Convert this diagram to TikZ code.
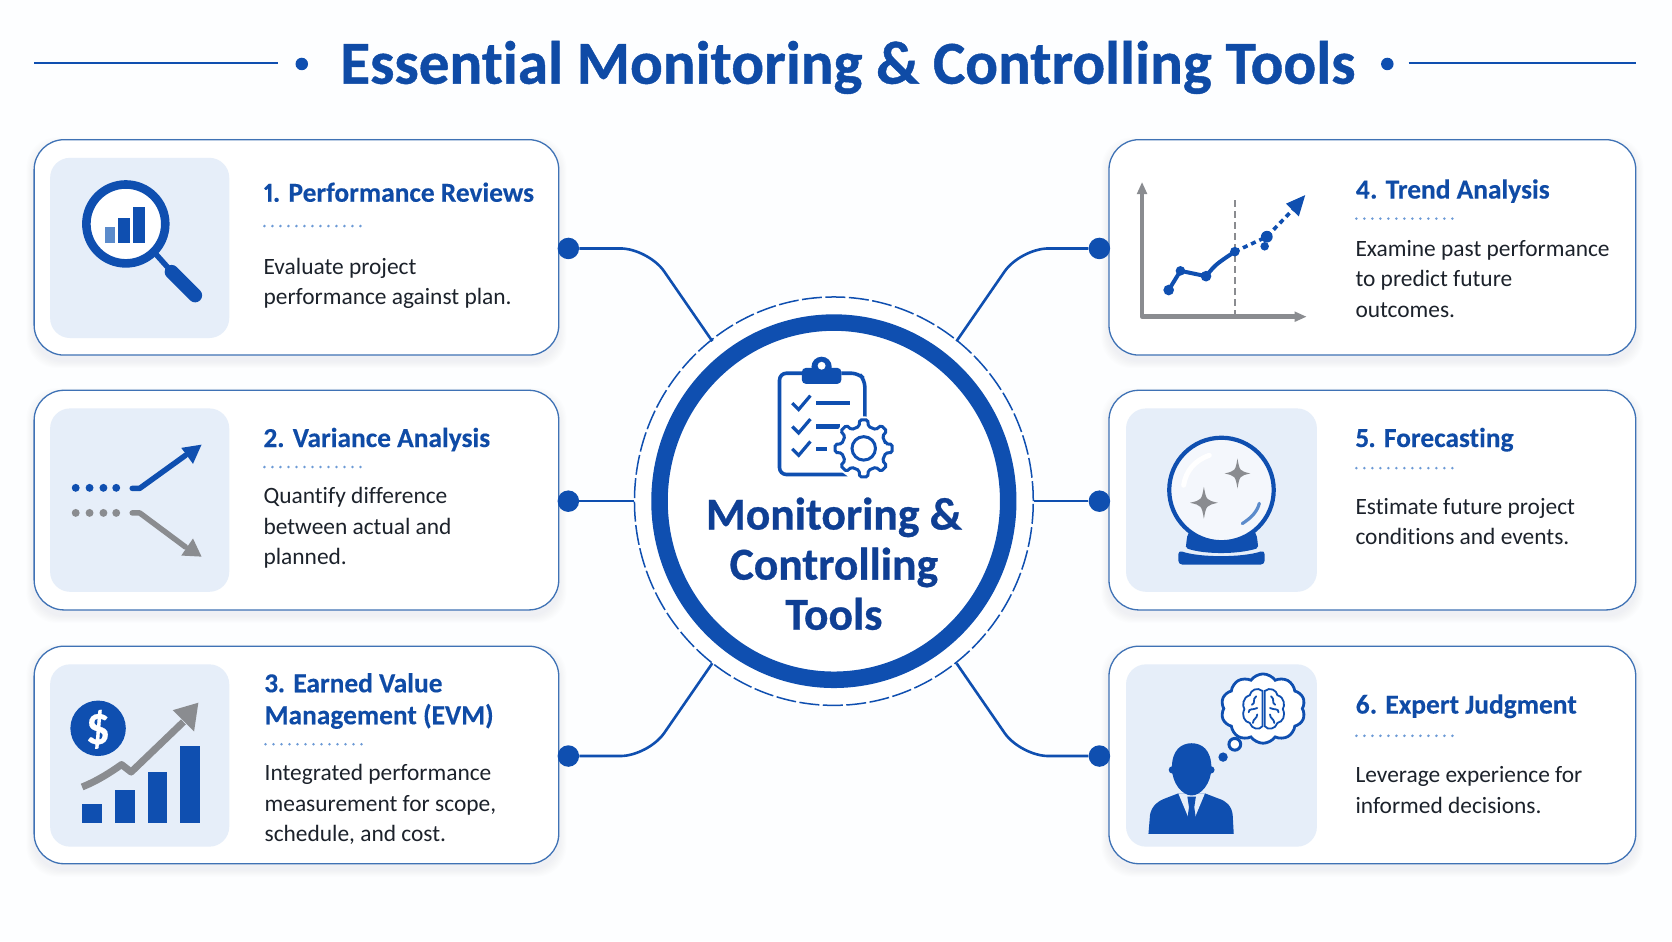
\documentclass[tikz,border=0pt]{standalone}
\usepackage{fontspec}
\setmainfont{Carlito}[Ligatures=NoCommon,Numbers=Proportional,BoldFeatures={FakeBold=0.25}]
\newfontfamily\heavyfont{Carlito}[Ligatures=NoCommon,Numbers=Proportional,BoldFeatures={FakeBold=0.7}]
\usetikzlibrary{shapes.geometric,shapes.symbols,arrows.meta,calc}
\definecolor{bgc}{HTML}{FDFEFF}
\definecolor{mainblue}{HTML}{0F4FB0}
\definecolor{deepblue}{HTML}{0F3F94}
\definecolor{headblue}{HTML}{0F4BA6}
\definecolor{cardline}{HTML}{3F72B5}
\definecolor{iconbg}{HTML}{E6EEF9}
\definecolor{softbar}{HTML}{5B8BCB}
\definecolor{dotblue}{HTML}{6C9AD6}
\definecolor{greyic}{HTML}{8A8C90}
\definecolor{bodyink}{HTML}{1C222B}
\definecolor{shadowc}{HTML}{7F96B8}
\tikzset{
  x=1.0663pt,y=-1.0663pt,
  cardbox/.style={draw=cardline,line width=1.3pt,fill=white,rounded corners=30pt,inner sep=0pt,rectangle},
  iconbox/.style={fill=iconbg,rounded corners=20pt,inner sep=0pt,rectangle},
  hubdot/.style={circle,fill=mainblue,minimum size=21.5pt,inner sep=0pt},
  link/.style={draw=mainblue,line width=2.6pt},
  dotrule/.style={draw=dotblue,line width=2.8pt,dash pattern=on 0pt off 8pt,line cap=round},
  headtext/.style={anchor=north west,inner sep=0pt,align=left,text=headblue,font=\fontsize{27.4}{32}\selectfont\bfseries},
  bodytext/.style={anchor=north west,inner sep=0pt,align=left,text=bodyink,font=\fontsize{23.4}{30.5}\selectfont},
  blueline/.style={draw=mainblue,line width=2.7pt},
}
\newcommand{\softshadow}[4]{\foreach \s in {1,...,7}{\fill[shadowc,opacity=.016,rounded corners=30pt] ({#1-\s},{#2-\s+5}) rectangle ({#3+\s},{#4+\s+5});}}
\newcommand{\cardnode}[5]{\softshadow{#2}{#3}{#4}{#5}\node[cardbox,minimum width={(#4-#2)*1.0663pt},minimum height={(#5-#3)*1.0663pt}] (#1) at ({(#2+#4)/2},{(#3+#5)/2}) {};}
\newcommand{\iconnode}[5]{\node[iconbox,minimum width={(#4-#2)*1.0663pt},minimum height={(#5-#3)*1.0663pt}] (#1) at ({(#2+#4)/2},{(#3+#5)/2}) {};}
\newcommand{\sparkle}[4]{\fill[greyic] (#1,{#2-#4}) .. controls ({#1+.17*#3},{#2-.17*#4}) .. ({#1+#3},#2) .. controls ({#1+.17*#3},{#2+.17*#4}) .. (#1,{#2+#4}) .. controls ({#1-.17*#3},{#2+.17*#4}) .. ({#1-#3},#2) .. controls ({#1-.17*#3},{#2-.17*#4}) .. cycle;}
\begin{document}
\begin{tikzpicture}
\useasboundingbox (0,0) rectangle (1568,882.5);
\fill[bgc] (0,0) rectangle (1568,882.5);

% title
\node[anchor=base,inner sep=0pt,text=headblue,font=\fontsize{61}{66}\selectfont\heavyfont\bfseries] (title) at (795,78.5) {Essential Monitoring \& Controlling Tools};
\draw[blueline] (32,59) -- (261,59);
\draw[blueline] (1321,59) -- (1534,59);
\node[circle,fill=mainblue,minimum size=12.5pt,inner sep=0pt] (tl) at (283,60) {};
\node[circle,fill=mainblue,minimum size=12.5pt,inner sep=0pt] (tr) at (1301,60) {};

% cards
\cardnode{c1}{32}{131}{524}{333}
\cardnode{c2}{32}{366}{524}{572}
\cardnode{c3}{32}{606}{524}{810}
\cardnode{c4}{1040}{131}{1534}{333}
\cardnode{c5}{1040}{366}{1534}{572}
\cardnode{c6}{1040}{606}{1534}{810}
\iconnode{i1}{47}{148}{215}{317}
\iconnode{i2}{47}{383}{215}{555}
\iconnode{i3}{47}{623}{215}{794}
\iconnode{i5}{1056}{383}{1235}{555}
\iconnode{i6}{1056}{623}{1235}{794}

% centre
\node[ellipse,draw=mainblue,line width=1.5pt,dash pattern=on 20pt off 3.5pt,fill=white,minimum width={374*1.0663pt},minimum height={383*1.0663pt},inner sep=0pt] (ring) at (782,470) {};
\node[ellipse,draw=mainblue,line width=16.5pt,fill=white,minimum width={327*1.0663pt},minimum height={335*1.0663pt},inner sep=0pt] (core) at (782,470) {};
\node[anchor=north,inner sep=0pt,align=center,text=deepblue,font=\fontsize{45.6}{50.1}\selectfont\heavyfont\bfseries] (coretext) at (782,463.5) {\strut Monitoring \&\\Controlling\\Tools};

% connectors
\node[hubdot] (d1) at (533,233) {};
\node[hubdot] (d2) at (533,470) {};
\node[hubdot] (d3) at (533,709) {};
\node[hubdot] (d4) at (1031,233) {};
\node[hubdot] (d5) at (1031,470) {};
\node[hubdot] (d6) at (1031,709) {};
\coordinate (j1) at (668,320);
\coordinate (j3) at (668,622);
\coordinate (j4) at (897,320);
\coordinate (j6) at (897,622);
\draw[link,rounded corners=28pt] (d1.east) -- (608,233) -- (j1);
\draw[link] (d2.east) -- (ring.west);
\draw[link,rounded corners=28pt] (d3.east) -- (608,709) -- (j3);
\draw[link,rounded corners=28pt] (d4.west) -- (957,233) -- (j4);
\draw[link] (d5.west) -- (ring.east);
\draw[link,rounded corners=28pt] (d6.west) -- (957,709) -- (j6);

% texts
\node[headtext] (h1) at (247,168) {\strut 1. Performance Reviews};
\node[bodytext] (b1) at (247,237) {\strut Evaluate project\\performance against plan.};
\draw[dotrule] (248,212) -- (341,212);
\node[headtext] (h2) at (247,398) {\strut 2. Variance Analysis};
\node[bodytext] (b2) at (247,452) {\strut Quantify difference\\between actual and\\planned.};
\draw[dotrule] (248,438) -- (341,438);
\node[headtext] (h3) at (248,628) {\strut 3. Earned Value\\Management (EVM)};
\node[bodytext] (b3) at (248,712) {\strut Integrated performance\\measurement for scope,\\schedule, and cost.};
\draw[dotrule] (249,698) -- (342,698);
\node[headtext] (h4) at (1271,165) {\strut 4. Trend Analysis};
\node[bodytext] (b4) at (1271,220) {\strut Examine past performance\\to predict future\\outcomes.};
\draw[dotrule] (1272,205) -- (1365,205);
\node[headtext] (h5) at (1271,398) {\strut 5. Forecasting};
\node[bodytext] (b5) at (1271,462) {\strut Estimate future project\\conditions and events.};
\draw[dotrule] (1272,439) -- (1365,439);
\node[headtext] (h6) at (1271,648) {\strut 6. Expert Judgment};
\node[bodytext] (b6) at (1271,714) {\strut Leverage experience for\\informed decisions.};
\draw[dotrule] (1272,690) -- (1365,690);

% ---- icon 1: magnifier
\draw[mainblue,line width=5.5pt] (145,237) -- (162,256);
\draw[mainblue,line width=14pt,line cap=round] (161,255) -- (183,277);
\draw[mainblue,line width=8.6pt,fill=white] (118,210) circle (37);
\fill[softbar] (98,213) rectangle (108,228);
\fill[mainblue] (111,204) rectangle (122,228);
\fill[mainblue] (125,194) rectangle (136,228);

% ---- icon 2: variance
\foreach \px in {71,84,97,109}{\fill[mainblue] (\px,457.5) circle (3.7);\fill[greyic] (\px,481) circle (3.7);}
\draw[mainblue,line width=5.5pt,line cap=round,line join=round] (124,458) -- (131,458) -- (174,427);
\fill[mainblue] (189,417) -- (170,420) -- (181,435) -- cycle;
\draw[greyic,line width=5.5pt,line cap=round,line join=round] (124,481) -- (131,481) -- (174,513);
\fill[greyic] (189,522) -- (170,521) -- (181,505) -- cycle;

% ---- icon 3: EVM
\fill[mainblue] (92,683) circle (26);
\node[text=white,inner sep=0pt,font=\fontsize{44}{44}\selectfont\bfseries] (dollar) at (92,684) {\$};
\fill[mainblue] (77,754) rectangle (96,772);
\fill[mainblue] (108,741) rectangle (127,772);
\fill[mainblue] (139,724) rectangle (157,772);
\fill[mainblue] (169,700) rectangle (188,772);
\draw[greyic,line width=7pt,line join=round] (77,738) .. controls (92,732) and (104,724) .. (114,717) -- (123,724) -- (172,677);
\fill[greyic] (186,659) -- (162,666) -- (182,686) -- cycle;

% ---- icon 4: trend
\draw[greyic,line width=4.4pt,line join=round] (1071,178) -- (1071,297) -- (1218,297);
\fill[greyic] (1071,171) -- (1066,182) -- (1076,182) -- cycle;
\fill[greyic] (1225,297) -- (1214,292) -- (1214,302) -- cycle;
\draw[greyic,line width=2.6pt,dash pattern=on 7pt off 4pt] (1158,188) -- (1158,297);
\draw[mainblue,line width=4pt,line join=round] (1096,272) -- (1107,254) -- (1131,259) .. controls (1140,248) .. (1158,236);
\foreach \px/\py/\pr in {1096/272/5,1107/254/4.5,1131/259/5,1158/236/4.5,1188/222/5.5,1186/231/4}{\fill[mainblue] (\px,\py) circle (\pr);}
\draw[mainblue,line width=3.6pt,dash pattern=on 5pt off 4pt] (1158,236) -- (1188,222) -- (1214,195);
\fill[mainblue] (1224,183) -- (1206,191) -- (1218,203) -- cycle;

% ---- icon 5: crystal ball
\fill[mainblue,rounded corners=2pt] (1112,514) -- (1113,505) .. controls (1114,500) and (1116,497) .. (1120,494) -- (1172,494) .. controls (1176,497) and (1178,500) .. (1179,505) -- (1180,514) .. controls (1160,520) and (1130,520) .. cycle;
\fill[mainblue,rounded corners=4pt] (1105,516) .. controls (1125,523) and (1165,523) .. (1186,516) -- (1186,529.5) -- (1105,529.5) -- cycle;
\draw[mainblue,line width=4.2pt,fill=iconbg!45!white] (1145.5,459.5) circle (49);
\draw[white,line width=5pt,line cap=round] (1110,455) .. controls (1112,442) and (1120,432) .. (1134,427);
\draw[softbar,line width=3.2pt,line cap=round] (1181,472) .. controls (1179,480) and (1173,486) .. (1165,491);
\sparkle{1160.5}{444}{12}{14}
\sparkle{1129}{471.5}{13}{15}

% ---- icon 6: expert
\fill[mainblue] (1077,782) -- (1078.5,764) .. controls (1080,756) and (1086,751) .. (1092,749) -- (1105,744) -- (1130,744) -- (1143,749) .. controls (1150,751) and (1155,756) .. (1156,764) -- (1157,782) -- cycle;
\fill[iconbg] (1105,744) -- (1130,744) -- (1117.5,774) -- cycle;
\fill[mainblue] (1113.5,747) -- (1121.5,747) -- (1120,757) -- (1121.5,768) -- (1117.5,776) -- (1113.5,768) -- (1115,757) -- cycle;
\fill[mainblue] (1099,720) .. controls (1099,703) and (1108,697) .. (1117.5,697) .. controls (1127,697) and (1136,703) .. (1136,720) .. controls (1136,735) and (1126,746) .. (1117.5,746) .. controls (1109,746) and (1099,735) .. cycle;
\fill[mainblue] (1099.5,722) circle (3.5);
\fill[mainblue] (1135.5,722) circle (3.5);
\node[cloud,cloud puffs=10,cloud puff arc=110,aspect=1.2,draw=mainblue,line width=2.8pt,fill=white,minimum width={79*1.0663pt},minimum height={65*1.0663pt},inner sep=0pt] (thought) at (1184.5,664.5) {};
\draw[mainblue,line width=3pt,fill=white] (1158,698) circle (5.5);
\fill[mainblue] (1147,710) circle (4.4);
\begin{scope}[shift={(1185,665)},mainblue,line width=1.8pt,line cap=round]
\foreach \sx in {1,-1}{
\begin{scope}[xscale=\sx]
\draw (1,-17) .. controls (6,-21) and (12,-18) .. (13,-13) .. controls (20,-11) and (20,-3) .. (18,0) .. controls (21,6) and (18,12) .. (13,13) .. controls (11,19) and (4,20) .. (1,16) -- cycle;
\draw (7,-12) .. controls (11,-9) and (7,-6) .. (11,-4);
\draw (6,-1) .. controls (10,1) and (14,-1) .. (14,3);
\draw (6,5) .. controls (6,9) and (10,9) .. (10,13);
\end{scope}}
\end{scope}

% ---- centre icon: clipboard and gear
\draw[mainblue,line width=3.6pt,rounded corners=7pt] (789,350) -- (805,350) -- (811,356) -- (811,410);
\draw[mainblue,line width=3.6pt,rounded corners=7pt] (752,350) -- (731,350) -- (731,445) -- (795,445);
\fill[mainblue] (770.5,344) circle (9.5);
\fill[mainblue,rounded corners=4pt] (752,345) rectangle (789,360);
\fill[white] (770.5,343) circle (3.7);
\foreach \cy in {378,400,421}{
\draw[mainblue,line width=3.2pt,line join=miter] (743,\cy) -- (749,{\cy+6}) -- (760,{\cy-7});}
\draw[mainblue,line width=4.6pt] (765.5,378) -- (797,378);
\draw[mainblue,line width=4.6pt] (765.5,400) -- (788,400);
\draw[mainblue,line width=4.6pt] (765.5,421) -- (776,421);
\begin{scope}[shift={(810,420.5)}]
\fill[white] (0,0) circle (30);
\draw[mainblue,line width=3pt,fill=white,rounded corners=1.6pt] (-12:21) \foreach \a in {0,45,...,315}{ -- ({\a-12}:21) -- ({\a-8}:27) -- ({\a+8}:27) -- ({\a+12}:21)} -- cycle;
\draw[mainblue,line width=3pt] (0,0) circle (11);
\end{scope}
\end{tikzpicture}
\end{document}
